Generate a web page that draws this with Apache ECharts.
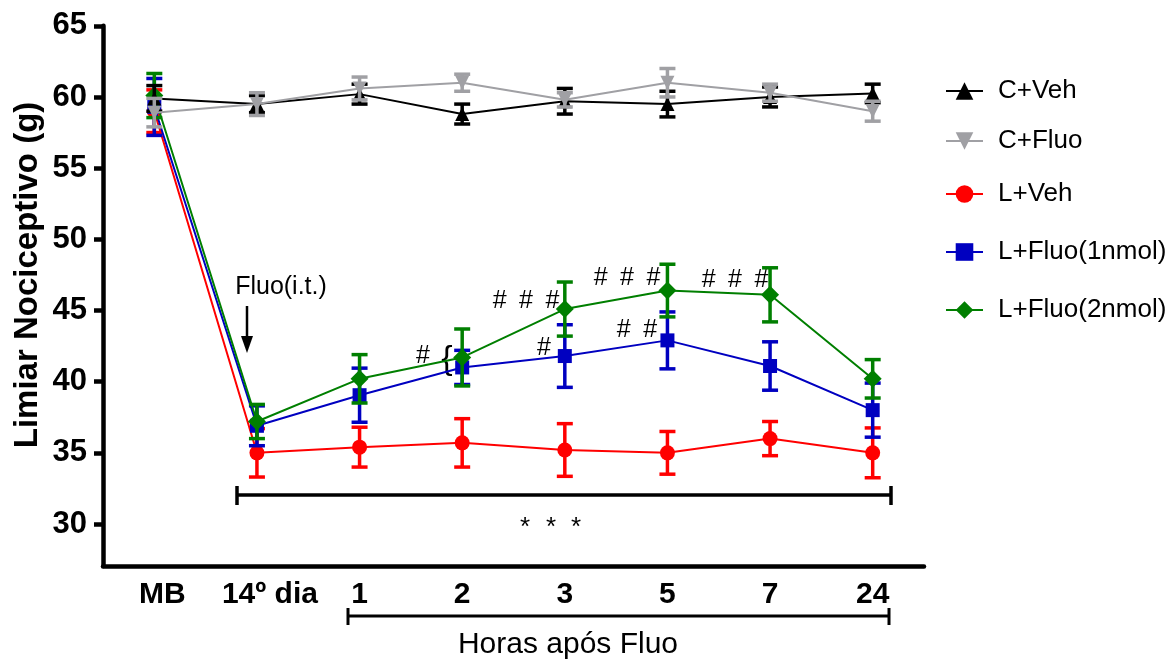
<!DOCTYPE html>
<html>
<head>
<meta charset="utf-8">
<script src="https://cdn.jsdelivr.net/npm/echarts@6/dist/echarts.min.js"></script>
<style>html,body{margin:0;padding:0;background:#fff}#c{width:1172px;height:661px}</style>
</head>
<body>
<div id="c"></div>
<script>
const categories = ['MB', '14º dia', '1', '2', '3', '5', '7', '24'];
const yTicks = [30, 35, 40, 45, 50, 55, 60, 65];

const cVeh     = [59.9, 59.5, 60.2, 58.8, 59.7, 59.5, 60.0, 60.25];
const cVehErr  = [0.9, 0.6, 0.7, 0.7, 0.9, 0.9, 0.7, 0.65];
const cFluo    = [58.9, 59.5, 60.6, 61.0, 59.8, 61.0, 60.3, 59.0];
const cFluoErr = [1.0, 0.8, 0.8, 0.6, 0.5, 1.0, 0.6, 0.7];
const lVeh     = [59.0, 35.0, 35.4, 35.7, 35.2, 35.0, 36.0, 35.0];
const lVehErr  = [1.5, 1.7, 1.4, 1.7, 1.85, 1.5, 1.2, 1.75];
const lF1      = [59.3, 36.9, 39.05, 41.0, 41.8, 42.9, 41.1, 38.0];
const lF1Err   = [2.0, 1.4, 1.9, 1.2, 2.2, 2.0, 1.7, 1.9];
const lF2      = [60.1, 37.2, 40.2, 41.7, 45.1, 46.4, 46.1, 40.2];
const lF2Err   = [1.55, 1.2, 1.7, 2.0, 1.9, 1.85, 1.9, 1.35];

const FONT = 'Liberation Sans, Arial, sans-serif';

const groups = [
  {name: 'L+Veh', v: lVeh, e: lVehErr, color: '#ff0000', symbol: 'circle', size: 15, rot: 0},
  {name: 'L+Fluo(1nmol)', v: lF1, e: lF1Err, color: '#0000c0', symbol: 'rect', size: 14, rot: 0},
  {name: 'L+Fluo(2nmol)', v: lF2, e: lF2Err, color: '#007f00', symbol: 'diamond', size: 18, rot: 0},
  {name: 'C+Veh', v: cVeh, e: cVehErr, color: '#000000', symbol: 'triangle', size: 14, rot: 0},
  {name: 'C+Fluo', v: cFluo, e: cFluoErr, color: '#a0a0a4', symbol: 'triangle', size: 14, rot: 180}
];

function errRender(color) {
  return function (params, api) {
    const x = api.value(0);
    const top = api.coord([x, api.value(2)]);
    const bot = api.coord([x, api.value(1)]);
    const hw = 8;
    const st = {stroke: color, lineWidth: 3.5};
    return {type: 'group', children: [
      {type: 'line', shape: {x1: top[0], y1: top[1], x2: bot[0], y2: bot[1]}, style: st},
      {type: 'line', shape: {x1: top[0] - hw, y1: top[1], x2: top[0] + hw, y2: top[1]}, style: st},
      {type: 'line', shape: {x1: bot[0] - hw, y1: bot[1], x2: bot[0] + hw, y2: bot[1]}, style: st}
    ]};
  };
}

const series = [];
groups.forEach(function (g, gi) {
  series.push({
    type: 'custom', name: g.name + ' err', z: 2 + gi * 2,
    renderItem: errRender(g.color),
    encode: {x: 0, y: [1, 2]},
    data: g.v.map(function (v, i) { return [i, v - g.e[i], v + g.e[i]]; }),
    silent: true
  });
  series.push({
    type: 'line', name: g.name, z: 3 + gi * 2,
    data: g.v,
    symbol: g.symbol, symbolSize: g.size, symbolRotate: g.rot,
    showSymbol: true,
    lineStyle: {color: g.color, width: 2},
    itemStyle: {color: g.color, borderWidth: 0, opacity: 1},
    animation: false
  });
});

const legendOrder = ['C+Veh', 'C+Fluo', 'L+Veh', 'L+Fluo(1nmol)', 'L+Fluo(2nmol)'];
const legendTops = [73, 123, 176, 234, 292];
const legends = legendOrder.map(function (n, i) {
  return {
    data: [n], left: 940, top: legendTops[i], orient: 'vertical',
    itemWidth: 37, itemHeight: 22,
    textStyle: {fontSize: 26, fontFamily: FONT, color: '#000', padding: [0, 0, 0, 10]},
    selectedMode: false
  };
});

function txt(x, y, s, size, extra) {
  return {type: 'text', x: x, y: y, style: Object.assign({text: s, fontSize: size, fontFamily: FONT, fill: '#000', textAlign: 'center', textVerticalAlign: 'middle'}, extra || {})};
}
function ln(x1, y1, x2, y2, w) {
  return {type: 'line', shape: {x1: x1, y1: y1, x2: x2, y2: y2}, style: {stroke: '#000', lineWidth: w || 3}};
}

const graphics = [
  {type: 'text', x: 28, y: 275, rotation: Math.PI / 2,
   style: {text: 'Limiar Nociceptivo (g)', fontSize: 33, fontWeight: 'bold', fontFamily: FONT, fill: '#000', textAlign: 'center', textVerticalAlign: 'middle'}},
  txt(281, 287, 'Fluo(i.t.)', 25),
  ln(247, 306, 247, 340, 2.5),
  {type: 'polygon', shape: {points: [[241, 336], [253, 336], [247, 353]]}, style: {fill: '#000'}},
  ln(237, 495, 891, 495, 3.5), ln(237, 486, 237, 505, 3.5), ln(891, 486, 891, 505, 3.5),
  txt(525, 528, '*', 26), txt(551, 528, '*', 26), txt(576, 528, '*', 26),
  ln(348, 616, 889, 616, 3), ln(348, 608, 348, 625, 3), ln(889, 608, 889, 625, 3),
  txt(568, 645, 'Horas após Fluo', 30),
  txt(423, 356, '#', 25), txt(447, 360, '{', 34),
  txt(526, 301, '#\u2002#\u2002#', 25),
  txt(544, 348, '#', 25),
  txt(627, 278, '#\u2002#\u2002#', 25),
  txt(637, 330, '#\u2002#', 25),
  txt(735, 280, '#\u2002#\u2002#', 25)
];

const option = {
  backgroundColor: '#fff',
  animation: false,
  grid: {left: 103, right: 248, top: 25.8, bottom: 95, containLabel: false},
  legend: legends,
  xAxis: {
    type: 'category', data: categories, boundaryGap: true,
    axisLine: {show: true, lineStyle: {color: '#000', width: 4.5}},
    axisTick: {show: false},
    splitLine: {show: false},
    axisLabel: {
      interval: 0, hideOverlap: false,
      margin: 14, fontSize: 30, fontWeight: 'bold', fontFamily: FONT, color: '#000',
      formatter: function (v) {
        if (v === 'MB') return '{a|MB}';
        if (v === '14º dia') return '{b|14º dia}';
        return v;
      },
      rich: {
        a: {fontSize: 30, fontWeight: 'bold', fontFamily: FONT, color: '#000', padding: [0, 0, 0, 16]},
        b: {fontSize: 30, fontWeight: 'bold', fontFamily: FONT, color: '#000', padding: [0, 0, 0, 26]}
      }
    }
  },
  yAxis: {
    type: 'value', min: 27.05, max: 65,
    axisLine: {show: true, lineStyle: {color: '#000', width: 4.5}},
    axisTick: {show: true, inside: false, length: 9, lineStyle: {color: '#000', width: 4.5}, customValues: yTicks},
    axisLabel: {margin: 16, fontSize: 31, fontWeight: 'bold', fontFamily: FONT, color: '#000', customValues: yTicks},
    splitLine: {show: false}
  },
  graphic: graphics,
  series: series
};

const chart = echarts.init(document.getElementById('c'), null, {renderer: 'canvas'});
chart.setOption(option);
</script>
</body>
</html>
